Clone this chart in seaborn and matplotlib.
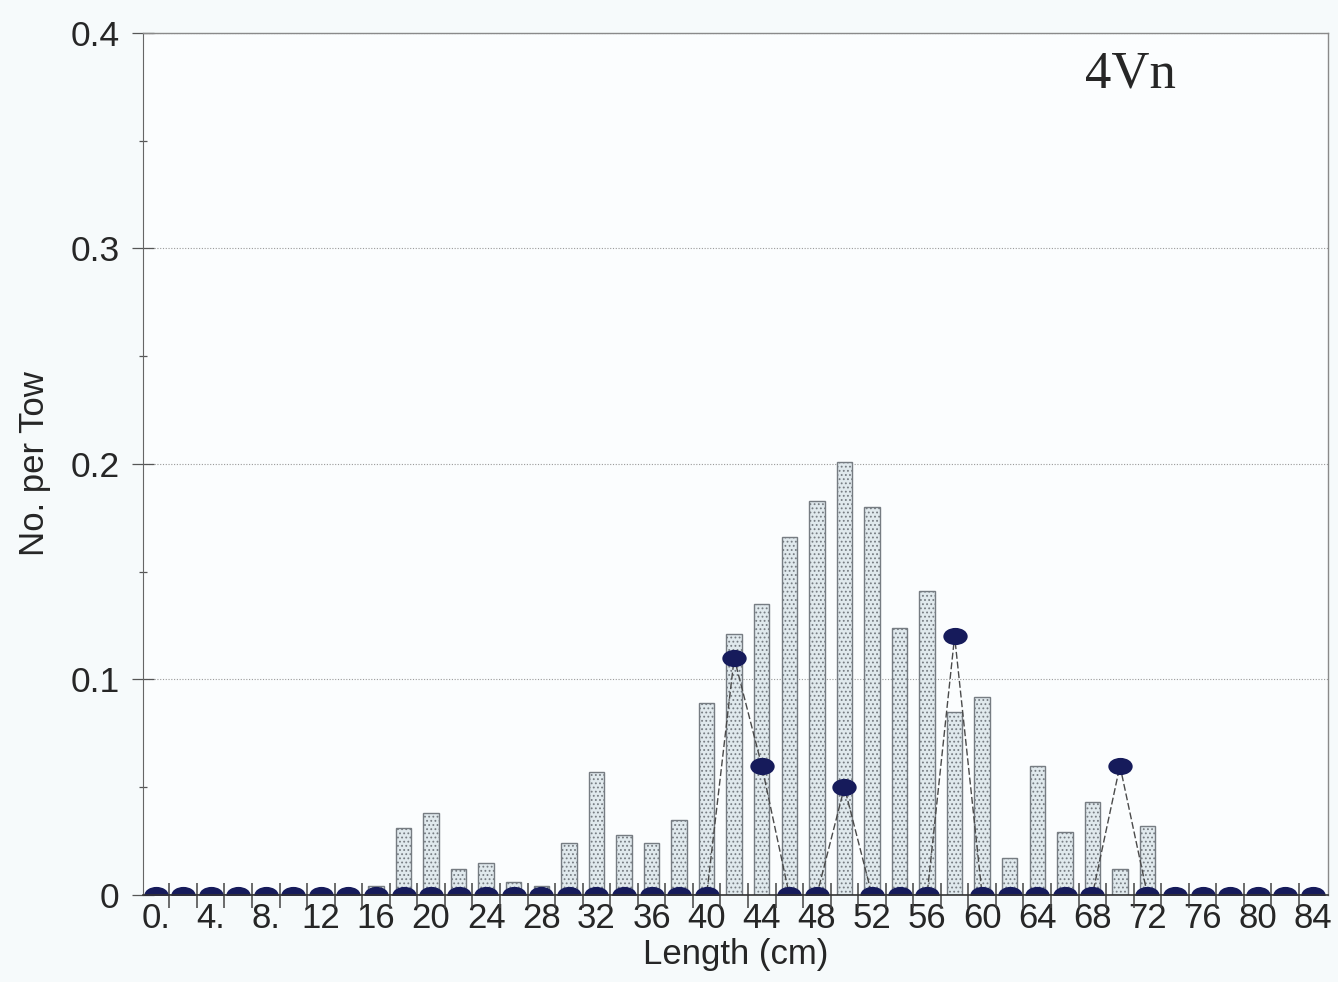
import numpy as np
import pandas as pd
import matplotlib
matplotlib.use("Agg")
import matplotlib.pyplot as plt
from matplotlib.path import Path
from matplotlib.ticker import FixedLocator
import seaborn as sns

# length classes (cm) and catch per tow
lengths = list(range(0, 86, 2))
bar_vals = [0, 0, 0, 0, 0, 0, 0, 0, 0.004, 0.031, 0.038, 0.012, 0.015, 0.006,
            0.004, 0.024, 0.057, 0.028, 0.024, 0.035, 0.089, 0.121, 0.135, 0.166,
            0.183, 0.201, 0.180, 0.124, 0.141, 0.085, 0.092, 0.017, 0.060, 0.029,
            0.043, 0.012, 0.032, 0, 0, 0, 0, 0, 0]
dot_vals = [0] * 21 + [0.110, 0.060, 0, 0, 0.050, 0, 0, 0, 0.120] + [0] * 5 + [0.060] + [0] * 7
tick_labels = ["0.", "4.", "8.", "12", "16", "20", "24", "28", "32", "36", "40",
               "44", "48", "52", "56", "60", "64", "68", "72", "76", "80", "84"]
y_ticks = [0, 0.1, 0.2, 0.3, 0.4]
y_labels = ["0", "0.1", "0.2", "0.3", "0.4"]

df = pd.DataFrame({"length": lengths, "bars": bar_vals, "dots": dot_vals})
df["length"] = df["length"].astype(str)

sns.set_style("white")
plt.rcParams["font.family"] = ["Liberation Sans", "DejaVu Sans"]
plt.rcParams["hatch.linewidth"] = 0.8

fig = plt.figure(figsize=(13.38, 9.82), dpi=100, facecolor="#f6fafb")
ax = fig.add_axes([0.107, 0.0886, 0.8855, 0.8778])
ax.set_facecolor("#fbfdfe")

sns.barplot(data=df, x="length", y="bars", ax=ax, width=0.56,
            color="#e0e9ed", edgecolor="#767c82", linewidth=1.0,
            hatch="....", saturation=1)

sns.pointplot(data=df, x="length", y="dots", ax=ax, color="#4a4a4a",
              markers="", linestyles=(0, (5, 2)), errorbar=None, linewidth=1.0)

# flattened ellipse marker like the original
ell = Path(Path.unit_circle().vertices * [1.5, 1.0], Path.unit_circle().codes)
sns.pointplot(data=df, x="length", y="dots", ax=ax, color="#161b5b",
              markers=ell, linestyles="none", errorbar=None, markersize=15.5)

ax.set_xlim(-0.45, len(lengths) - 0.45)
ax.set_ylim(0, 0.4)

ax.set_xticks(range(0, len(lengths), 2))
ax.set_xticklabels(tick_labels)
ax.xaxis.set_minor_locator(FixedLocator(np.arange(0.5, len(lengths) - 1, 1)))
ax.tick_params(axis="x", which="major", length=0, pad=5, labelsize=25)
ax.tick_params(axis="x", which="minor", direction="inout", length=18,
               width=1.1, color="#444444", bottom=True)

ax.set_yticks(y_ticks)
ax.set_yticklabels(y_labels)
ax.yaxis.set_minor_locator(FixedLocator([0.05, 0.15, 0.25, 0.35]))
ax.tick_params(axis="y", which="major", direction="inout", length=16,
               width=0.9, color="#555555", labelsize=25.5, pad=9, left=True)
ax.tick_params(axis="y", which="minor", direction="inout", length=6,
               width=0.9, color="#555555", left=True)

ax.grid(axis="y", which="major", linestyle=(0, (1, 1.5)), color="#9a9a9a", linewidth=0.8)
ax.set_axisbelow(True)

for side in ["top", "right"]:
    ax.spines[side].set_color("#8a8a8a")
    ax.spines[side].set_linewidth(1.0)
ax.spines["left"].set_color("#666666")
ax.spines["bottom"].set_color("#333333")
ax.spines["bottom"].set_linewidth(1.2)

ax.set_xlabel("Length (cm)", fontsize=25, labelpad=2)
ax.set_ylabel("No. per Tow", fontsize=25, labelpad=14)

ax.text(0.795, 0.937, "4Vn", transform=ax.transAxes, fontsize=38,
        family=["Liberation Serif", "DejaVu Serif"], ha="left", va="baseline")

fig.savefig("out.png", dpi=100, facecolor=fig.get_facecolor())
